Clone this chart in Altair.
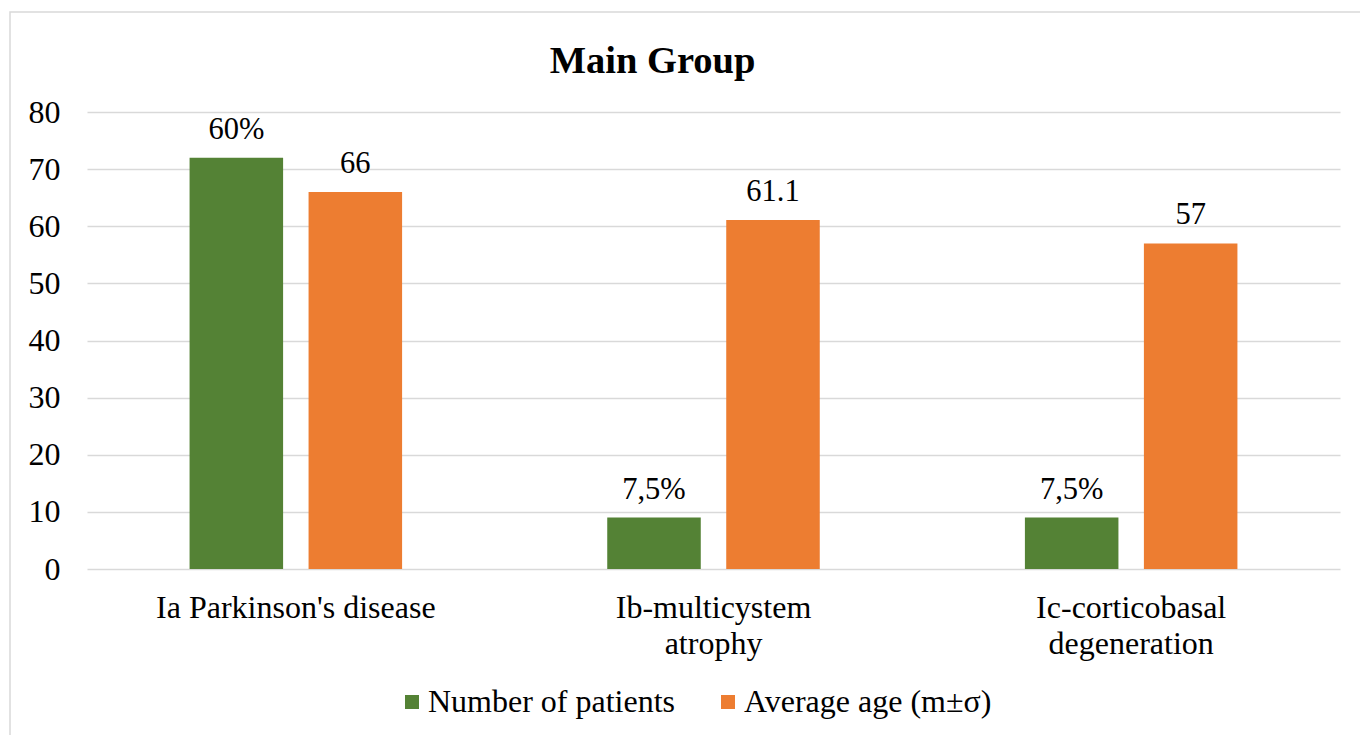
import altair as alt
import pandas as pd

categories = ["Ia Parkinson's disease", "Ib-multicystem atrophy", "Ic-corticobasal degeneration"]
series = ["Number of patients", "Average age (m±σ)"]
patients = [72, 9, 9]
patients_labels = ["60%", "7,5%", "7,5%"]
age = [66, 61.1, 57]
age_labels = ["66", "61.1", "57"]
colors = ["#548235", "#ED7D31"]

rows = []
for c, v, l in zip(categories, patients, patients_labels):
    rows.append({"category": c, "series": series[0], "value": v, "label": l})
for c, v, l in zip(categories, age, age_labels):
    rows.append({"category": c, "series": series[1], "value": v, "label": l})
df = pd.DataFrame(rows)

FONT = "'Times New Roman', 'Liberation Serif', serif"

base = alt.Chart(df).encode(
    x=alt.X(
        "category:N",
        sort=categories,
        scale=alt.Scale(paddingInner=0, paddingOuter=0),
        axis=alt.Axis(
            title=None, labelAngle=0, labelFontSize=32, labelFont=FONT,
            labelPadding=23, labelLineHeight=36, labelColor="black", labelLimit=0,
            labelExpr="test(/-/, datum.label) ? split(datum.label, ' ') : datum.label",
            domain=False, ticks=False, grid=False,
        ),
    ),
    xOffset=alt.XOffset("series:N", sort=series,
                        scale=alt.Scale(paddingInner=0.214, paddingOuter=0.862)),
)

bars = base.mark_bar().encode(
    y=alt.Y(
        "value:Q",
        scale=alt.Scale(domain=[0, 80]),
        axis=alt.Axis(
            title=None, values=list(range(0, 81, 10)), grid=True,
            gridColor="#d9d9d9", gridWidth=1.3, domain=False, ticks=False,
            labelFontSize=32, labelFont=FONT, labelPadding=27, labelColor="black",
        ),
    ),
    color=alt.Color(
        "series:N",
        sort=series,
        scale=alt.Scale(domain=series, range=colors),
        legend=alt.Legend(
            title=None, orient="none", legendX=309, legendY=574,
            direction="horizontal", symbolType="square", symbolSize=196,
            symbolOpacity=1, symbolStrokeWidth=0, labelLimit=0,
            labelFontSize=32, labelFont=FONT, labelColor="black",
            labelOffset=0, columnPadding=36,
        ),
    ),
)

labels = base.mark_text(
    baseline="alphabetic", dy=-19, fontSize=30.5, font=FONT, color="black"
).encode(y="value:Q", text="label:N")

border = alt.Chart(alt.Data(values=[{"a": 1}])).mark_rect(
    fill="transparent", stroke="#d9d9d9", strokeWidth=1.5
).encode(
    x=alt.value(-77), x2=alt.value(1283), y=alt.value(-100), y2=alt.value(633)
)

chart = alt.layer(border, bars, labels).properties(
    width=1253,
    height=457,
    autosize=alt.AutoSizeParams(type="none"),
    padding={"left": 87, "top": 112, "right": 20, "bottom": 166},
    title=alt.TitleParams(
        "Main Group", font=FONT, fontSize=38.5, fontWeight="bold",
        anchor="middle", dx=-61, offset=0, dy=100, baseline="alphabetic",
        color="black",
    ),
).configure(background="white", font=FONT).configure_view(stroke=None)

chart.save("out.html", embed_options={"renderer": "svg", "actions": False})
